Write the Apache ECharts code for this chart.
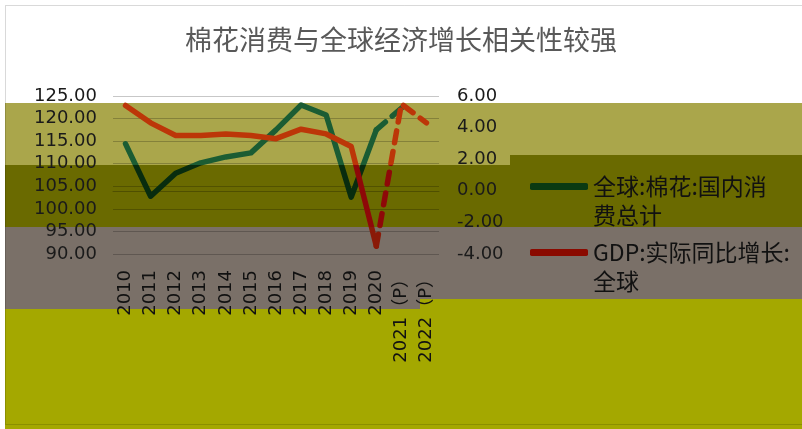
<!DOCTYPE html>
<html>
<head>
<meta charset="utf-8">
<script src="https://cdn.jsdelivr.net/npm/echarts@6/dist/echarts.min.js"></script>
<style>
  html, body { margin: 0; padding: 0; background: #fff; }
  #main { width: 802px; height: 429px; }
</style>
</head>
<body>
<div id="main"></div>
<script>
// 年份（2021、2022为预测）
var years = ['2010', '2011', '2012', '2013', '2014', '2015', '2016', '2017', '2018', '2019', '2020', '2021（P）', '2022（P）'];
// 全球:棉花:国内消费总计（左轴）
var cottonUse = [114.4, 102.8, 107.9, 110.2, 111.5, 112.4, 117.5, 123.0, 120.8, 102.6, 117.5, 122.3, null];
// GDP:实际同比增长:全球（右轴）
var gdpGrowth = [5.4, 4.3, 3.5, 3.5, 3.6, 3.5, 3.3, 3.9, 3.6, 2.8, -3.5, 5.5, 4.3];
// 左右轴刻度
var leftAxis = { min: 90, max: 125, step: 5 };
var rightAxis = { min: -4, max: 6, step: 2 };
var lastActual = 10; // 2020 之后为虚线

var nameCotton = '全球:棉花:国内消费总计';
var nameGdp = 'GDP:实际同比增长:全球';

function solidPart(arr) {
    return arr.map(function (v, i) { return i <= lastActual ? v : null; });
}
function dashedPart(arr) {
    return arr.map(function (v, i) { return i >= lastActual ? v : null; });
}

var chart = echarts.init(document.getElementById('main'));

var numFont = 'DejaVu Sans, Noto Sans CJK SC';
var cjkFont = 'Noto Sans CJK SC';

var option = {
    backgroundColor: '#ffffff',
    animation: false,
    title: {
        text: '棉花消费与全球经济增长相关性较强',
        left: 'center',
        top: 20,
        textStyle: {
            color: '#595959',
            fontFamily: cjkFont,
            fontWeight: 'normal',
            fontSize: 27,
            lineHeight: 29
        }
    },
    // 背景色带
    graphic: [
        { type: 'rect', z: -1, silent: true, shape: { x: 5, y: 103, width: 505, height: 62 }, style: { fill: '#aaa64b' } },
        { type: 'rect', z: -1, silent: true, shape: { x: 510, y: 103, width: 292, height: 52 }, style: { fill: '#aaa64b' } },
        { type: 'rect', z: -1, silent: true, shape: { x: 5, y: 165, width: 505, height: 62 }, style: { fill: '#6a6a00' } },
        { type: 'rect', z: -1, silent: true, shape: { x: 510, y: 155, width: 292, height: 72 }, style: { fill: '#6a6a00' } },
        { type: 'rect', z: -1, silent: true, shape: { x: 5, y: 227, width: 415, height: 82 }, style: { fill: '#7a7068' } },
        { type: 'rect', z: -1, silent: true, shape: { x: 420, y: 227, width: 382, height: 72 }, style: { fill: '#7a7068' } },
        { type: 'rect', z: -1, silent: true, shape: { x: 5, y: 309, width: 415, height: 120 }, style: { fill: '#a4a800' } },
        { type: 'rect', z: -1, silent: true, shape: { x: 420, y: 299, width: 382, height: 130 }, style: { fill: '#a4a800' } },
        { type: 'rect', z: 100, silent: true, shape: { x: 5.5, y: 5.5, width: 800, height: 419 }, style: { fill: 'none', stroke: 'rgba(0,0,0,0.15)', lineWidth: 1 } }
    ],
    legend: {
        orient: 'vertical',
        left: 530,
        top: 143,
        padding: 0,
        itemGap: -21,
        itemWidth: 58,
        itemHeight: 7,
        icon: 'roundRect',
        // 首行与图例线对齐
        formatter: function (name) {
            if (name === nameCotton) return '\n全球:棉花:国内消\n费总计';
            return '\nGDP:实际同比增长:\n全球';
        },
        textStyle: {
            color: '#111',
            fontFamily: cjkFont,
            fontSize: 23,
            lineHeight: 29
        },
        data: [
            { name: nameCotton, itemStyle: { color: '#0a3a12' } },
            { name: nameGdp, itemStyle: { color: '#8a0a00' } }
        ]
    },
    visualMap: [
        {
            type: 'piecewise', show: false, seriesIndex: [0, 1], dimension: 1,
            pieces: [
                { gt: 109.7, lte: 140, color: '#1b5c33' },
                { gte: 80, lte: 109.7, color: '#082c0e' }
            ]
        },
        {
            type: 'piecewise', show: false, seriesIndex: [2, 3], dimension: 1,
            pieces: [
                { gt: 1.63, lte: 10, color: '#bc3608' },
                { gt: -2.29, lte: 1.63, color: '#8e0808' },
                { gte: -10, lte: -2.29, color: '#8a1a08' }
            ]
        }
    ],
    grid: {
        left: 113,
        right: 363,
        top: 96,
        bottom: 175
    },
    xAxis: {
        type: 'category',
        data: years,
        boundaryGap: true,
        axisTick: { show: false },
        axisLine: { lineStyle: { color: 'rgba(0,0,0,0.25)', width: 1 } },
        axisLabel: {
            interval: 0,
            rotate: 90,
            margin: 16,
            color: '#111',
            fontFamily: numFont,
            fontSize: 18
        }
    },
    yAxis: [
        {
            type: 'value',
            min: leftAxis.min,
            max: leftAxis.max,
            interval: leftAxis.step,
            axisLine: { show: false },
            axisTick: { show: false },
            splitLine: { lineStyle: { color: 'rgba(0,0,0,0.22)', width: 1 } },
            axisLabel: {
                margin: 16,
                color: '#1a1a1a',
                fontFamily: numFont,
                fontSize: 18,
                formatter: function (v) { return v.toFixed(2); }
            }
        },
        {
            type: 'value',
            min: rightAxis.min,
            max: rightAxis.max,
            interval: rightAxis.step,
            axisLine: { show: false },
            axisTick: { show: false },
            splitLine: { show: false },
            axisLabel: {
                margin: 18,
                color: '#1a1a1a',
                fontFamily: numFont,
                fontSize: 18,
                formatter: function (v) { return v.toFixed(2); }
            }
        }
    ],
    series: [
        {
            name: nameCotton,
            type: 'line',
            yAxisIndex: 0,
            symbol: 'none',
            data: solidPart(cottonUse),
            lineStyle: { width: 5.5, cap: 'round', join: 'round' }
        },
        {
            name: nameCotton,
            type: 'line',
            yAxisIndex: 0,
            symbol: 'none',
            data: dashedPart(cottonUse),
            lineStyle: { width: 5.5, type: [12, 9], cap: 'round' }
        },
        {
            name: nameGdp,
            type: 'line',
            yAxisIndex: 1,
            symbol: 'none',
            data: solidPart(gdpGrowth),
            lineStyle: { width: 5.5, cap: 'round', join: 'round' }
        },
        {
            name: nameGdp,
            type: 'line',
            yAxisIndex: 1,
            symbol: 'none',
            data: dashedPart(gdpGrowth),
            lineStyle: { width: 5.5, type: [12, 9], cap: 'round' }
        }
    ]
};

chart.setOption(option);
</script>
</body>
</html>
